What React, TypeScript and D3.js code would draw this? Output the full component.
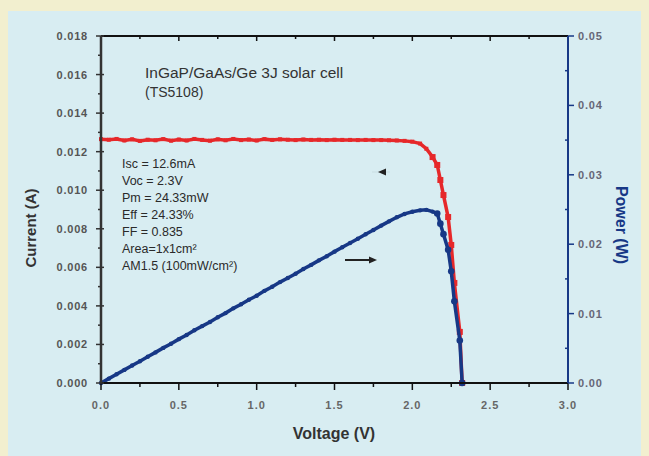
import React from 'react';
import * as d3 from 'd3';

// I-V / P-V curve of an InGaP/GaAs/Ge triple junction cell
const voltage = [
  0.0, 0.05, 0.1, 0.15, 0.2, 0.25, 0.3, 0.35, 0.4, 0.45,
  0.5, 0.55, 0.6, 0.65, 0.7, 0.75, 0.8, 0.85, 0.9, 0.95,
  1.0, 1.05, 1.1, 1.15, 1.2, 1.25, 1.3, 1.35, 1.4, 1.45,
  1.5, 1.55, 1.6, 1.65, 1.7, 1.75, 1.8, 1.85, 1.9, 1.95,
  2.0, 2.05, 2.09, 2.13, 2.16, 2.18, 2.2, 2.23, 2.25, 2.27, 2.305, 2.32,
];
const current = [
  0.01265, 0.01262, 0.01266, 0.01258, 0.01264, 0.01256, 0.01262, 0.01259, 0.01265, 0.01257,
  0.01263, 0.01258, 0.01266, 0.01261, 0.01257, 0.01264, 0.01259, 0.01266, 0.0126, 0.01263,
  0.01258, 0.01265, 0.01261, 0.01264, 0.01262, 0.0126, 0.01263, 0.01261, 0.01262, 0.0126,
  0.01262, 0.01261, 0.01261, 0.0126, 0.01261, 0.0126, 0.0126, 0.01259, 0.01258, 0.01256,
  0.01252, 0.01242, 0.01215, 0.01172, 0.01131, 0.01053, 0.00975, 0.00861, 0.00716, 0.00519, 0.00265, 0.0,
];
const power = [
  0.0, 0.00063, 0.00127, 0.00189, 0.00253, 0.00314, 0.00379, 0.00441, 0.00506, 0.00566,
  0.00632, 0.00692, 0.0076, 0.0082, 0.0088, 0.00948, 0.01007, 0.01076, 0.01134, 0.012,
  0.01258, 0.01328, 0.01387, 0.01454, 0.01514, 0.01575, 0.01642, 0.01702, 0.01767, 0.01827,
  0.01893, 0.01955, 0.02018, 0.02079, 0.02143, 0.02205, 0.02268, 0.02329, 0.02388, 0.02436,
  0.02468, 0.02488, 0.02495, 0.02470, 0.02443, 0.02296, 0.02145, 0.0192, 0.01611, 0.01178, 0.00611, 0.0,
];

const xTicks = ['0.0', '0.5', '1.0', '1.5', '2.0', '2.5', '3.0'];
const currentTicks = ['0.000', '0.002', '0.004', '0.006', '0.008', '0.010', '0.012', '0.014', '0.016', '0.018'];
const powerTicks = ['0.00', '0.01', '0.02', '0.03', '0.04', '0.05'];
const infoLines = [
  'Isc = 12.6mA',
  'Voc = 2.3V',
  'Pm = 24.33mW',
  'Eff = 24.33%',
  'FF = 0.835',
  'Area=1x1cm²',
  'AM1.5 (100mW/cm²)',
];

const W = 649;
const H = 456;
const left = 101;
const right = 568;
const top = 36;
const bottom = 383;
const font = 'Liberation Sans, Arial, sans-serif';
const RED = '#e6282a';
const NAVY = '#173886';

export default function App() {
  const x = d3.scaleLinear().domain([0, 3]).range([left, right]);
  const yI = d3.scaleLinear().domain([0, 0.018]).range([bottom, top]);
  const yP = d3.scaleLinear().domain([0, 0.05]).range([bottom, top]);

  const pts = voltage.map((v, i) => ({ v, i: current[i], p: power[i] }));
  const lineI = d3.line<any>().x(d => x(d.v)).y(d => yI(d.i));
  const lineP = d3.line<any>().x(d => x(d.v)).y(d => yP(d.p));

  const xMinor = d3.range(0, 3.001, 0.25);
  const iMinor = d3.range(0, 0.01801, 0.001);
  const pMinor = d3.range(0, 0.0501, 0.005);

  return (
    <svg width={W} height={H} style={{ position: 'absolute', left: 0, top: 0 }} fontFamily={font}>
      <rect x={0} y={0} width={W} height={H} fill="#f2efcf" />
      <rect x={8} y={11} width={W - 16} height={H - 11} fill="#d8edf2" />

      {/* title */}
      <text x={145} y={78} fontSize={15.5} fill="#333">InGaP/GaAs/Ge 3J solar cell</text>
      <text x={145} y={97} fontSize={14} fill="#333">(TS5108)</text>

      {/* info block */}
      {infoLines.map((t, k) => (
        <text key={t} x={122} y={168 + k * 17} fontSize={12.5} fill="#2a2a2a">{t}</text>
      ))}

      {/* arrows */}
      <line x1={372} y1={172} x2={390} y2={172} stroke="#c8dde2" strokeWidth={1} />
      <path d="M378,172 L386,168.5 L386,175.5 Z" fill="#222" />
      <line x1={345} y1={260} x2={370} y2={260} stroke="#222" strokeWidth={2} />
      <path d="M377,260 L369,256.5 L369,263.5 Z" fill="#222" />

      {/* curves */}
      <path d={lineI(pts) || ''} fill="none" stroke={RED} strokeWidth={3.5} />
      {pts.map((d, k) => (
        d.v > 2.1
          ? <rect key={'r' + k} x={x(d.v) - 3} y={yI(d.i) - 3} width={6} height={6} fill={RED} />
          : <rect key={'r' + k} x={x(d.v) - 2} y={yI(d.i) - 2} width={4} height={4} fill={RED} />
      ))}
      <path d={lineP(pts) || ''} fill="none" stroke={NAVY} strokeWidth={3.5} />
      {pts.map((d, k) => (
        <circle key={'b' + k} cx={x(d.v)} cy={yP(d.p)} r={d.v > 2.15 ? 3.3 : 2.2} fill={NAVY} />
      ))}

      {/* top axis */}
      <line x1={left} y1={top} x2={right} y2={top} stroke="#111" strokeWidth={2} />
      {xMinor.map((v, k) => (
        <line key={'t' + k} x1={x(v)} x2={x(v)} y1={top} y2={top + (k % 2 === 0 ? 5 : 3)} stroke="#111" strokeWidth={1.5} />
      ))}

      {/* bottom axis */}
      <line x1={left} y1={bottom} x2={right} y2={bottom} stroke="#111" strokeWidth={2} />
      {xMinor.map((v, k) => (
        <line key={'bt' + k} x1={x(v)} x2={x(v)} y1={bottom} y2={bottom + (k % 2 === 0 ? 7 : 4)} stroke="#111" strokeWidth={1.5} />
      ))}
      {xTicks.map(t => (
        <text key={t} x={x(+t)} y={409} fontSize={11} fontWeight="bold" fill="#666" textAnchor="middle" letterSpacing={1}>{t}</text>
      ))}
      <text x={334} y={439} fontSize={16} fontWeight="bold" fill="#333" textAnchor="middle">Voltage (V)</text>

      {/* left axis */}
      <line x1={left} y1={top} x2={left} y2={bottom} stroke="#333" strokeWidth={2.5} />
      {iMinor.map((v, k) => (
        <line key={'l' + k} x1={left - (k % 2 === 0 ? 5 : 3)} x2={left + (k % 2 === 0 ? 3 : 0)} y1={yI(v)} y2={yI(v)} stroke="#333" strokeWidth={1.5} />
      ))}
      {currentTicks.map(t => (
        <text key={t} x={88} y={yI(+t) + 4} fontSize={11} fontWeight="bold" fill="#555" textAnchor="end" letterSpacing={0.8}>{t}</text>
      ))}
      <text transform={`translate(36,228) rotate(-90)`} fontSize={15} fontWeight="bold" fill="#333" textAnchor="middle">Current (A)</text>

      {/* right axis */}
      <line x1={right} y1={top} x2={right} y2={bottom} stroke={NAVY} strokeWidth={2} />
      {pMinor.map((v, k) => (
        k % 2 === 0
          ? <line key={'p' + k} x1={right} x2={right + 6} y1={yP(v)} y2={yP(v)} stroke={NAVY} strokeWidth={1.5} />
          : <line key={'p' + k} x1={right - 3} x2={right} y1={yP(v)} y2={yP(v)} stroke={NAVY} strokeWidth={1.5} />
      ))}
      {powerTicks.map(t => (
        <text key={t} x={578} y={yP(+t) + 4} fontSize={11} fontWeight="bold" fill="#667" letterSpacing={0.8}>{t}</text>
      ))}
      <text transform={`translate(616,225) rotate(90)`} fontSize={16} fontWeight="bold" fill={NAVY} textAnchor="middle">Power (W)</text>
    </svg>
  );
}
